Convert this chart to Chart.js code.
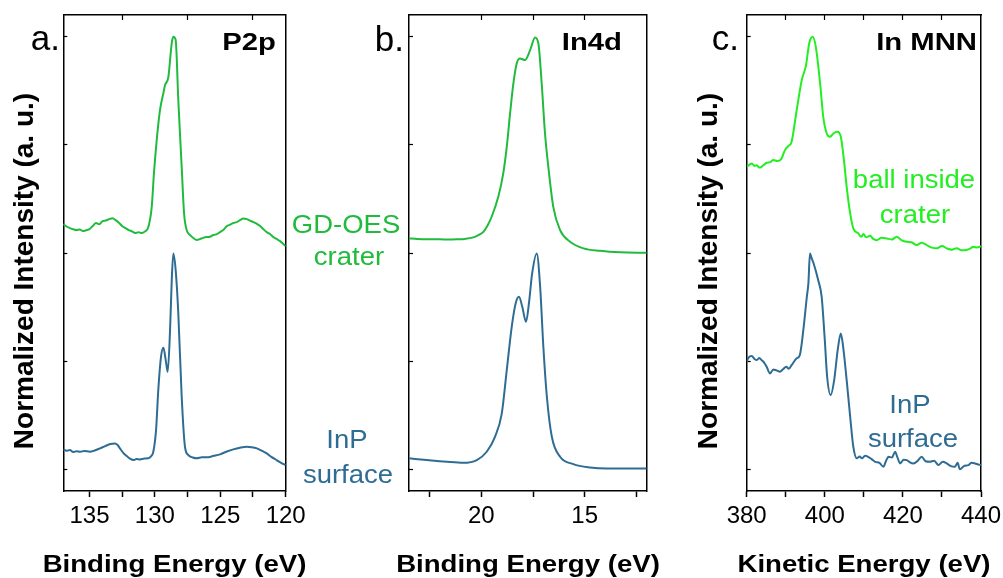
<!DOCTYPE html>
<html>
<head>
<meta charset="utf-8">
<script src="https://cdn.jsdelivr.net/npm/chart.js@4.4.1/dist/chart.umd.min.js"></script>
<style>
  body { margin: 0; background: #fff; }
  #wrap { position: relative; width: 1003px; height: 578px; }
  canvas { position: absolute; left: 0; top: 0; }
</style>
</head>
<body>
<div id="wrap">
  <canvas id="p2p" width="1003" height="578"></canvas>
  <canvas id="in4d" width="1003" height="578"></canvas>
  <canvas id="mnn" width="1003" height="578"></canvas>
</div>
<script>
const FONT = "'Liberation Sans', Arial, sans-serif"
const GREEN = "#20bb3c"
const LIME = "#22ee22"
const BLUE = "#2e6c93"

// normalized intensity, arbitrary units (spectra offset by 2)
const yTicks = [0, 1, 2, 3, 4]

// a. P2p, binding energy (eV) vs intensity
const p2pTicks = [135, 132.5, 130, 127.5, 125, 122.5, 120]
const p2pLabels = [135, 130, 125, 120]
const p2pTopTicks = [132.5, 127.5, 122.5]
const p2pCrater = [
  [137, 2.267], [136.75, 2.245], [136.5, 2.230], [136.25, 2.220], [136, 2.212], [135.75, 2.218],
  [135.5, 2.203], [135.25, 2.210], [135, 2.221], [134.75, 2.250], [134.5, 2.277], [134.25, 2.265],
  [134, 2.295], [133.75, 2.300], [133.5, 2.313], [133.25, 2.322], [133, 2.304], [132.75, 2.280],
  [132.5, 2.249], [132.25, 2.230], [132, 2.212], [131.75, 2.200], [131.5, 2.184], [131.25, 2.192],
  [131, 2.184], [130.75, 2.200], [130.5, 2.240], [130.24, 2.427], [130.07, 2.738], [129.86, 3.043],
  [129.61, 3.320], [129.35, 3.478], [129.22, 3.552], [128.97, 3.626], [128.71, 3.940], [128.59, 3.998],
  [128.41, 3.968], [128.21, 3.413], [127.95, 2.794], [127.77, 2.369], [127.57, 2.212], [127.3, 2.165],
  [127.06, 2.138], [126.8, 2.120], [126.55, 2.129], [126.3, 2.140], [126.04, 2.147], [125.8, 2.150],
  [125.53, 2.166], [125.25, 2.175], [125.02, 2.193], [124.75, 2.215], [124.5, 2.249], [124.25, 2.262],
  [124, 2.277], [123.75, 2.285], [123.49, 2.304], [123.25, 2.318], [122.98, 2.313], [122.75, 2.300],
  [122.47, 2.286], [122.2, 2.270], [121.96, 2.249], [121.7, 2.220], [121.45, 2.193], [121.2, 2.175],
  [120.94, 2.147], [120.7, 2.130], [120.43, 2.110], [120.2, 2.085], [120, 2.064]
]
const p2pSurface = [
  [137, 0.185], [136.75, 0.172], [136.5, 0.180], [136.25, 0.160], [136, 0.168], [135.7, 0.163],
  [135.4, 0.170], [134.96, 0.163], [134.6, 0.175], [134.2, 0.194], [133.8, 0.215], [133.4, 0.234],
  [133.05, 0.240], [132.85, 0.225], [132.67, 0.194], [132.4, 0.150], [132.15, 0.123], [131.9, 0.100],
  [131.65, 0.086], [131.4, 0.095], [131.14, 0.092], [130.8, 0.100], [130.5, 0.102], [130.3, 0.120],
  [130.12, 0.163], [129.91, 0.363], [129.74, 0.733], [129.53, 1.041], [129.35, 1.124], [129.17, 1.010],
  [129.02, 0.902], [128.84, 1.287], [128.71, 1.750], [128.59, 1.996], [128.41, 1.842], [128.21, 1.445],
  [127.95, 0.671], [127.7, 0.209], [127.44, 0.132], [127.1, 0.110], [126.8, 0.102], [126.4, 0.112],
  [126.04, 0.111], [125.5, 0.125], [125.02, 0.139], [124.5, 0.165], [124, 0.185], [123.5, 0.200],
  [122.98, 0.209], [122.6, 0.205], [122.2, 0.194], [121.8, 0.170], [121.45, 0.148], [121.1, 0.115],
  [120.7, 0.086], [120.35, 0.060], [120, 0.040]
]

// b. In4d
const in4dTicks = [22.5, 20, 17.5, 15, 12.5]
const in4dLabels = [20, 15]
const in4dTopTicks = [20, 17.5, 15]
const in4dCrater = [
  [23.5, 2.135], [23.1, 2.130], [22.81, 2.128], [22.4, 2.126], [22, 2.126], [21.6, 2.124],
  [21.19, 2.126], [20.8, 2.130], [20.39, 2.144], [20.1, 2.170], [19.9, 2.196], [19.7, 2.255],
  [19.5, 2.335], [19.18, 2.519], [18.94, 2.736], [18.77, 2.981], [18.61, 3.290], [18.45, 3.567],
  [18.29, 3.752], [18.13, 3.799], [17.89, 3.783], [17.64, 3.875], [17.4, 3.993], [17.24, 3.937],
  [17.08, 3.567], [16.92, 3.105], [16.76, 2.797], [16.52, 2.427], [16.19, 2.212], [15.71, 2.104],
  [15.06, 2.043], [14.25, 2.020], [13.29, 2.006], [12, 2.002]
]
const in4dSurface = [
  [23.5, 0.102], [22.64, 0.086], [21.67, 0.070], [20.87, 0.061], [20.22, 0.086], [19.74, 0.163],
  [19.34, 0.301], [19.01, 0.518], [18.77, 0.918], [18.53, 1.318], [18.34, 1.534], [18.18, 1.595],
  [18.02, 1.503], [17.84, 1.364], [17.68, 1.565], [17.55, 1.800], [17.32, 1.996], [17.16, 1.703],
  [17, 1.133], [16.83, 0.671], [16.59, 0.301], [16.19, 0.116], [15.55, 0.049], [14.74, 0.018],
  [13.93, 0.009], [12, 0.009]
]

// c. In MNN, kinetic energy (eV)
const mnnTicks = [380, 390, 400, 410, 420, 430, 440]
const mnnLabels = [380, 400, 420, 440]
const mnnTopTicks = [390, 400, 410, 420, 430]
const mnnBall = [
  [380, 2.797], [380.7, 2.815], [381.3, 2.828], [382, 2.805], [382.6, 2.812], [383.2, 2.790],
  [383.8, 2.797], [384.4, 2.815], [385.1, 2.834], [386, 2.840], [386.8, 2.859], [387.8, 2.850],
  [388.8, 2.865], [389.8, 2.951], [390.7, 2.990], [391.5, 3.028], [392.8, 3.321], [394.1, 3.598],
  [395.2, 3.737], [396, 3.937], [396.9, 3.998], [397.7, 3.906], [398.8, 3.567], [399.6, 3.259],
  [400.5, 3.105], [401.3, 3.074], [402.2, 3.105], [403.2, 3.120], [404.1, 3.074], [404.9, 2.859],
  [405.6, 2.612], [406.5, 2.366], [407.3, 2.227], [408.6, 2.181], [409.3, 2.150], [409.9, 2.175],
  [410.6, 2.145], [411.6, 2.160], [412.4, 2.130], [413.3, 2.119], [414.5, 2.140], [415.9, 2.135],
  [417.2, 2.125], [418.4, 2.150], [419.6, 2.120], [421, 2.104], [422.2, 2.100], [423.5, 2.073],
  [424.8, 2.095], [426.1, 2.073], [427.4, 2.050], [428.7, 2.043], [430, 2.065], [431.2, 2.043],
  [432.5, 2.030], [433.8, 2.045], [435, 2.025], [436.3, 2.027], [437.2, 2.040], [438, 2.057],
  [439, 2.050], [440, 2.064]
]
const mnnSurface = [
  [380, 0.994], [380.5, 1.035], [381.3, 1.047], [382, 1.020], [382.6, 1.010], [383.2, 1.030],
  [383.8, 1.010], [384.5, 0.985], [385.1, 0.948], [386, 0.887], [386.8, 0.924], [387.6, 0.915],
  [388.5, 0.902], [389.3, 0.925], [390.1, 0.948], [390.8, 0.930], [391.5, 0.964], [392.8, 1.026],
  [393.6, 1.056], [394.5, 1.287], [395.4, 1.595], [395.8, 1.722], [396.2, 1.996], [396.6, 1.955],
  [397.1, 1.907], [398.3, 1.750], [399.2, 1.595], [400, 1.195], [400.6, 0.856], [401.5, 0.687],
  [402.4, 0.825], [403.3, 1.103], [404.1, 1.257], [404.7, 1.133], [405.6, 0.825], [406.5, 0.486],
  [407.3, 0.209], [408.2, 0.102], [408.9, 0.120], [409.5, 0.102], [410.3, 0.125], [411.1, 0.116],
  [412, 0.095], [412.9, 0.070], [414, 0.060], [415, 0.024], [415.7, 0.080], [416.3, 0.116],
  [417.2, 0.110], [418, 0.163], [418.6, 0.110], [419.3, 0.055], [420.2, 0.090], [421, 0.086],
  [421.8, 0.065], [422.7, 0.055], [423.8, 0.080], [424.8, 0.116], [425.8, 0.075], [426.9, 0.070],
  [428, 0.080], [429.1, 0.040], [430.2, 0.070], [431.2, 0.055], [432.3, 0.030], [433.3, 0.024],
  [434, 0.060], [434.6, 0.000], [435.6, 0.030], [436.8, 0.040], [437.6, 0.060], [438.5, 0.055],
  [439.3, 0.045], [440, 0.040]
]


// free text (panel letters, titles, sample names, axis titles)
function textPlugin(texts){
  return {
    id: "texts",
    afterDraw(chart){
      const ctx = chart.ctx
      texts.forEach(t => {
        ctx.save()
        ctx.font = (t.bold ? "bold " : "") + t.size + "px " + FONT
        ctx.fillStyle = t.color || "#000"
        ctx.textAlign = t.align || "center"
        ctx.textBaseline = "alphabetic"
        ctx.translate(t.x, t.y)
        if(t.rotate) ctx.rotate(-Math.PI / 2)
        ctx.scale(t.sx || 1, 1)
        ctx.fillText(t.text, 0, 0)
        ctx.restore()
      })
    }
  }
}

const frame = { color: "#000", width: 1.5 }

function makePanel(id, p){

  const setTicks = vals => s => { s.ticks = vals.map(v => ({ value: v })) }

  return new Chart(document.getElementById(id), {
    type: "line",
    data: {
      datasets: p.series.map(s => ({
        data: s.data.map(d => ({ x: d[0], y: d[1] })),
        borderColor: s.color,
        borderWidth: 2,
        pointRadius: 0,
        fill: false,
        cubicInterpolationMode: "monotone"
      }))
    },
    options: {
      responsive: false,
      animation: false,
      events: [],
      // bottom x scale is given a fixed 60px height below
      layout: { padding: { left: p.left, right: 1003 - p.right, top: 15, bottom: 27 } },
      plugins: { legend: { display: false }, tooltip: { enabled: false } },
      scales: {
        x: {
          type: "linear", position: "bottom",
          min: p.min, max: p.max, reverse: p.reverse,
          afterBuildTicks: setTicks(p.ticks),
          afterFit: s => { s.height = 60; s.paddingLeft = 0; s.paddingRight = 0 },
          border: frame,
          grid: { drawOnChartArea: false, tickLength: 6, tickWidth: 1.5, tickColor: "#000" },
          ticks: {
            autoSkip: false, maxRotation: 0, padding: 5, color: "#000",
            font: { family: FONT, size: 24 },
            callback: v => p.labels.includes(v) ? String(v) : ""
          }
        },
        xTop: {
          type: "linear", position: "top",
          min: p.min, max: p.max, reverse: p.reverse,
          afterBuildTicks: setTicks(p.topTicks),
          afterFit: s => { s.height = 0 },
          border: frame,
          grid: { drawOnChartArea: false, tickLength: -5, tickWidth: 1.2, tickColor: "#000" },
          ticks: { display: false }
        },
        y: {
          type: "linear", position: "left",
          min: -0.2, max: 4.2,
          afterBuildTicks: setTicks(yTicks),
          afterFit: s => { s.width = 0 },
          border: frame,
          grid: { drawOnChartArea: false, tickLength: -4, tickWidth: 1.2, tickColor: "#000" },
          ticks: { display: false }
        },
        yRight: {
          type: "linear", position: "right",
          min: -0.2, max: 4.2,
          afterFit: s => { s.width = 0 },
          border: frame,
          grid: { drawOnChartArea: false, drawTicks: false },
          ticks: { display: false }
        }
      }
    },
    plugins: [textPlugin(p.texts)]
  })
}

const yTitle = "Normalized Intensity (a. u.)"

makePanel("p2p", {
  left: 63.3, right: 285.7, min: 120, max: 137, reverse: true,
  ticks: p2pTicks, labels: p2pLabels, topTicks: p2pTopTicks,
  series: [
    { data: p2pCrater, color: GREEN },
    { data: p2pSurface, color: BLUE }
  ],
  texts: [
    { text: "a.", x: 60, y: 50, size: 35, align: "right" },
    { text: "P2p", x: 276, y: 50, size: 24, bold: true, align: "right", sx: 1.22 },
    { text: "GD-OES", x: 346, y: 233, size: 25, color: GREEN, sx: 1.1 },
    { text: "crater", x: 349, y: 265, size: 25, color: GREEN, sx: 1.1 },
    { text: "InP", x: 347, y: 448, size: 25, color: BLUE, sx: 1.1 },
    { text: "surface", x: 348, y: 483, size: 25, color: BLUE, sx: 1.1 },
    { text: yTitle, x: 33, y: 271, size: 28, bold: true, rotate: true },
    { text: "Binding Energy (eV)", x: 174.5, y: 572, size: 24, bold: true, sx: 1.15 }
  ]
})

makePanel("in4d", {
  left: 409, right: 646.7, min: 12, max: 23.5, reverse: true,
  ticks: in4dTicks, labels: in4dLabels, topTicks: in4dTopTicks,
  series: [
    { data: in4dCrater, color: GREEN },
    { data: in4dSurface, color: BLUE }
  ],
  texts: [
    { text: "b.", x: 404, y: 51, size: 35, align: "right" },
    { text: "In4d", x: 622, y: 50, size: 24, bold: true, align: "right", sx: 1.22 },
    { text: "Binding Energy (eV)", x: 528, y: 572, size: 24, bold: true, sx: 1.15 }
  ]
})

makePanel("mnn", {
  left: 746.7, right: 981, min: 380, max: 440, reverse: false,
  ticks: mnnTicks, labels: mnnLabels, topTicks: mnnTopTicks,
  series: [
    { data: mnnBall, color: LIME },
    { data: mnnSurface, color: BLUE }
  ],
  texts: [
    { text: "c.", x: 739, y: 50, size: 35, align: "right" },
    { text: "In MNN", x: 977, y: 50, size: 24, bold: true, align: "right", sx: 1.22 },
    { text: "ball inside", x: 914, y: 188, size: 25, color: LIME, sx: 1.1 },
    { text: "crater", x: 915, y: 223, size: 25, color: LIME, sx: 1.1 },
    { text: "InP", x: 910, y: 413, size: 25, color: BLUE, sx: 1.1 },
    { text: "surface", x: 913, y: 447, size: 25, color: BLUE, sx: 1.1 },
    { text: yTitle, x: 717, y: 271, size: 28, bold: true, rotate: true },
    { text: "Kinetic Energy (eV)", x: 864, y: 572, size: 24, bold: true, sx: 1.15 }
  ]
})
</script>
</body>
</html>
